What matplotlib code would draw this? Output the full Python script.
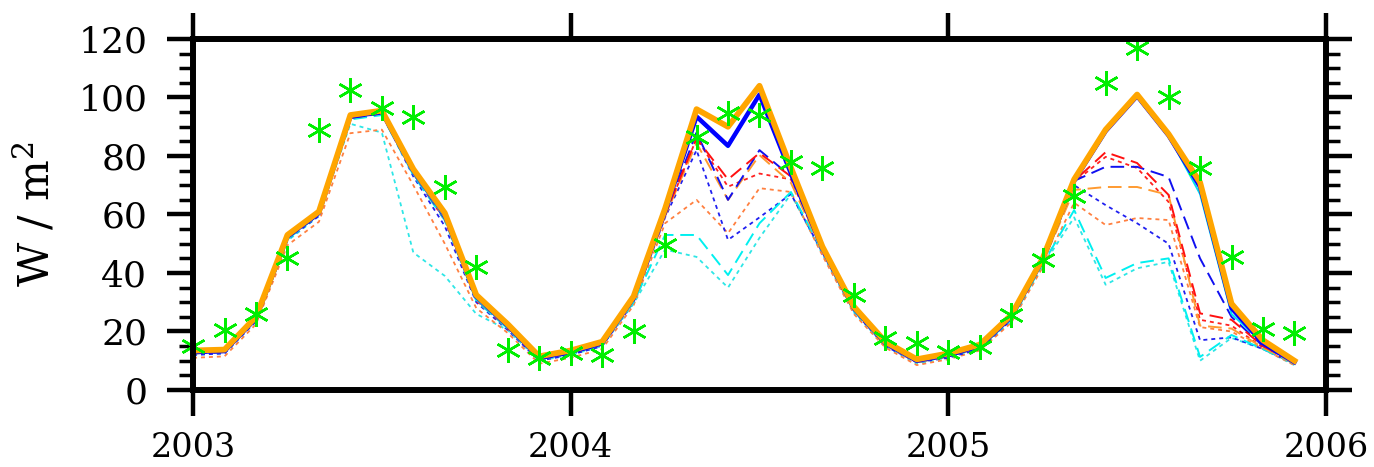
import matplotlib
matplotlib.use('Agg')
import matplotlib.pyplot as plt
import numpy as np

plt.rcParams['font.family'] = 'DejaVu Serif'
plt.rcParams['mathtext.fontset'] = 'dejavuserif'

# monthly values, Jan 2003 .. Dec 2005
months = 2003 + np.arange(36) / 12.0

obs = [15, 20.5, 26, 45, 89, 102.5, 96.5, 93.5, 69.5, 42, 13.7, 11,
       12.6, 12, 20, 49.6, 86.6, 94.6, 94, 78, 76, 32.5, 17.8, 16,
       13, 14.7, 25.6, 44.4, 66.3, 105, 117, 100, 76, 45.5, 21, 19.5]

ctl = [13.5, 13.8, 25, 53, 61, 94, 95.5, 75.5, 60.5, 32.5, 22.5, 11.5,
       13.5, 16.5, 32, 62, 96, 90, 104, 76, 49, 28.5, 16.5, 10.5,
       12.5, 15.5, 25.6, 45, 72, 89, 101, 87.5, 71, 29.5, 17, 10]

blue_thick = [13, 13.3, 24.5, 52.5, 60.5, 93.5, 95, 75, 60, 32, 22, 11,
              13, 16, 31.5, 61, 93.5, 83.5, 101, 74, 48.5, 28, 16, 10,
              12, 15, 25, 44.5, 71.5, 88.5, 100.5, 87, 69.5, 28, 16, 9.5]

cyan_solid = [13, 13.3, 24.5, 52.5, 60.5, 93.5, 95, 74, 59, 31, 21.5, 11,
              13, 16, 31.5, 61, 93, 83, 100.5, 74, 48.5, 28, 16, 10,
              12, 15, 25, 44.5, 71.5, 88.5, 100.5, 87, 67, 26, 16, 9.5]

red_long = [13, 13.3, 24.5, 52, 60.5, 93.5, 95, 74.5, 59, 31, 21.5, 11,
            13, 16, 31, 60, 86, 72, 81, 73, 48, 28, 16, 10,
            12, 15, 25, 44, 71.5, 81.3, 77.6, 66.7, 26.2, 24, 15, 9.5]

blue_long = [12.5, 13, 24, 52, 60, 93, 94.5, 74, 58.5, 31, 21.5, 10.5,
             12.5, 15.5, 31, 60, 88, 65, 82, 73, 48, 27.5, 15.5, 10,
             11.5, 14.5, 24.5, 44, 71.5, 76.3, 76.3, 72.8, 45, 25, 15, 9.5]

orange_long = [12.5, 13, 24, 52, 60, 93, 94.5, 74, 58.5, 31, 21.5, 10.5,
               12.5, 15.5, 30.5, 59.5, 84.4, 65, 80.3, 70.8, 47.5, 27.5, 15.5, 9.5,
               11.5, 14.5, 24.5, 43.5, 68.4, 69.4, 69.4, 66.7, 22, 21, 14.5, 9]

cyan_long = [12.5, 13, 24, 51.5, 60, 92.5, 94, 73.5, 58, 30.5, 21, 10.5,
             12.5, 15.5, 30, 53, 53, 39.3, 57, 67.7, 47.5, 27, 15.5, 9.5,
             11.5, 14.5, 24, 43, 61.5, 38.3, 43.4, 45, 11.3, 18.8, 14, 9]

red_short = [12.5, 13, 24, 52, 60, 93, 94.5, 74, 58, 30.5, 21, 10.5,
             12.5, 15.5, 30.5, 59.5, 86, 69.5, 74, 72, 47.5, 27.5, 15.5, 9.5,
             11.5, 14.5, 24.5, 44, 71, 79.7, 75.9, 64.3, 24, 22, 14.5, 9]

blue_short = [12, 12.5, 23.5, 51.5, 59.5, 93, 94.5, 73, 56, 30, 20.5, 10,
              12, 15, 30, 59, 82, 51.3, 59, 67, 47, 27, 15, 9.5,
              11, 14, 24, 43.5, 70, 63.2, 57, 50, 17, 18, 14, 9]

orange_short = [11, 11.5, 22.5, 49.5, 57.5, 87.8, 89, 70, 50, 28, 19.5, 9,
                11, 14, 29, 57, 65, 53.6, 69, 67.7, 46, 26, 14.5, 8.5,
                10.5, 13.5, 23, 42, 64, 56.4, 58.8, 58.1, 21.5, 20, 14, 8.5]

cyan_short = [12, 12.5, 23.5, 51, 59.5, 91, 88, 47, 39, 26, 20.5, 10,
              12, 15, 29.5, 48, 45.5, 35, 52, 67, 46.5, 26.5, 15, 9,
              11, 14, 23.5, 42.5, 59, 36, 41.6, 43.8, 10, 17.8, 14, 8.5]

fig = plt.figure(figsize=(13.74, 4.67), dpi=100)
ax = fig.add_axes([0.1405, 0.1649, 0.8245, 0.7516])

short = (0, (2.2, 2.2))
longd = (0, (7, 3.5))

ax.plot(months, cyan_short, color='#2ee6e6', lw=1.3, ls=short)
ax.plot(months, orange_short, color='#ff8040', lw=1.3, ls=short)
ax.plot(months, blue_short, color='#2020f0', lw=1.3, ls=short)
ax.plot(months, red_short, color='#ff2020', lw=1.3, ls=short)
ax.plot(months, cyan_long, color='#00f0f0', lw=1.4, ls=longd)
ax.plot(months, orange_long, color='#ff9a30', lw=1.4, ls=longd)
ax.plot(months, blue_long, color='#1010f0', lw=1.4, ls=longd)
ax.plot(months, red_long, color='#ff1010', lw=1.4, ls=longd)
ax.plot(months, cyan_solid, color='#00e0f0', lw=1.4)
ax.plot(months, blue_thick, color='#0000ff', lw=3.2)
ax.plot(months, ctl, color='#ffa500', lw=4.2)

ax.plot(months, obs, ls='none', marker=(6, 2, 0), ms=18, mew=1.8,
        color='#00ee00', clip_on=False)

ax.set_xlim(2003, 2006)
ax.set_ylim(0, 120)
ax.set_xticks([2003, 2004, 2005, 2006])
ax.set_xticklabels(['2003', '2004', '2005', '2006'])
ax.set_yticks(np.arange(0, 121, 20))
ax.set_yticks(np.arange(0, 121, 5), minor=True)

for s in ax.spines.values():
    s.set_linewidth(4.3)

ax.tick_params(axis='x', which='major', direction='out', top=True, bottom=True,
               length=19, width=3.2, labelsize=24, pad=11)
ax.tick_params(axis='y', which='major', direction='out', left=True, right=True,
               length=19, width=3.2, labelsize=26, pad=14)
ax.tick_params(axis='y', which='minor', direction='out', left=True, right=True,
               length=10, width=2.5)
ax.tick_params(axis='x', which='minor', bottom=False, top=False)

ax.set_ylabel('W / m$^2$', fontsize=31, labelpad=14)

fig.savefig('out.png', dpi=100)
